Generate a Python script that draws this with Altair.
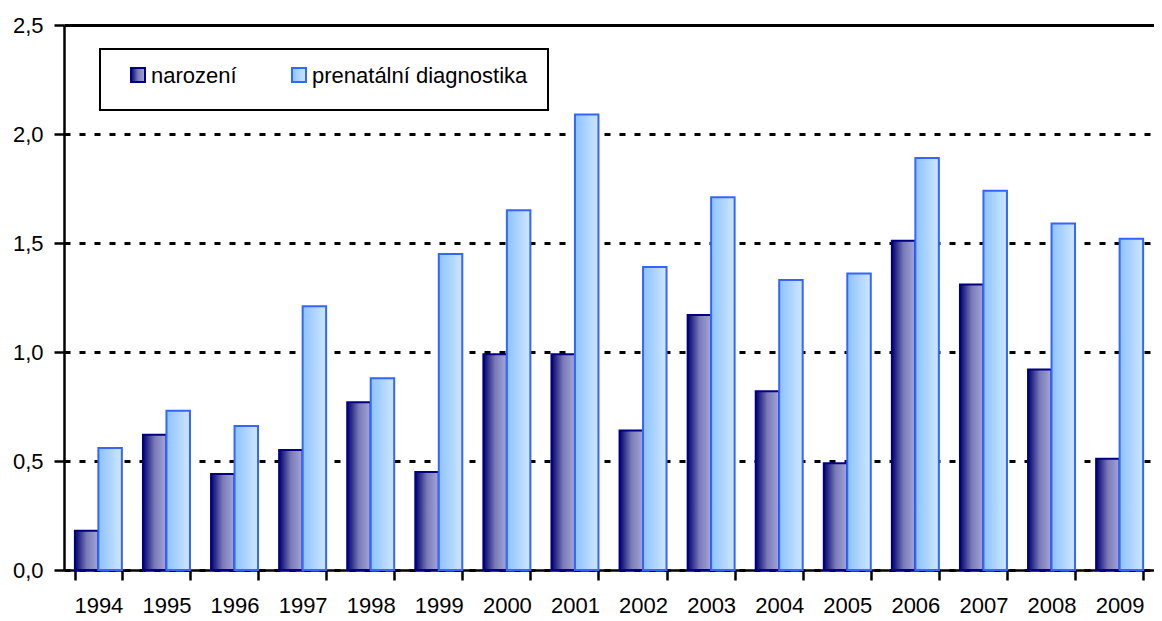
import altair as alt
import pandas as pd

years = ["1994", "1995", "1996", "1997", "1998", "1999", "2000", "2001",
         "2002", "2003", "2004", "2005", "2006", "2007", "2008", "2009"]
narozeni = [0.18, 0.62, 0.44, 0.55, 0.77, 0.45, 0.99, 0.99,
            0.64, 1.17, 0.82, 0.49, 1.51, 1.31, 0.92, 0.51]
prenatalni = [0.56, 0.73, 0.66, 1.21, 0.88, 1.45, 1.65, 2.09,
              1.39, 1.71, 1.33, 1.36, 1.89, 1.74, 1.59, 1.52]
series_names = ["narození", "prenatální diagnostika"]
y_ticks = [0.0, 0.5, 1.0, 1.5, 2.0, 2.5]

FONT = "Liberation Sans, Arial"

rows = []
for y, a, b in zip(years, narozeni, prenatalni):
    rows.append({"year": y, "series": series_names[0], "value": a})
    rows.append({"year": y, "series": series_names[1], "value": b})
df = pd.DataFrame(rows)

grad_nar = alt.LinearGradient(
    gradient="linear",
    stops=[alt.GradientStop(color="#000070", offset=0),
           alt.GradientStop(color="#7a7ab8", offset=0.5),
           alt.GradientStop(color="#a6a6d8", offset=1)],
    x1=0, x2=1, y1=0, y2=0)
grad_pre = alt.LinearGradient(
    gradient="linear",
    stops=[alt.GradientStop(color="#8cc2ff", offset=0),
           alt.GradientStop(color="#cfe7ff", offset=1)],
    x1=0, x2=1, y1=0, y2=0)

x_enc = alt.X("year:N", sort=years, title=None,
              scale=alt.Scale(paddingInner=0.31, paddingOuter=0.16),
              axis=alt.Axis(labelAngle=0, labelFont=FONT, labelFontSize=22,
                            labelColor="black", domainColor="black",
                            domainWidth=2.5, tickColor="black", tickWidth=2.5,
                            tickSize=10, tickBand="extent", labelPadding=15,
                            grid=False))
y_enc = alt.Y("value:Q", title=None,
              scale=alt.Scale(domain=[0, 2.5], nice=False),
              axis=alt.Axis(values=y_ticks, labelFont=FONT, labelFontSize=22,
                            labelColor="black",
                            labelExpr="replace(format(datum.value, '.1f'), '.', ',')",
                            domainColor="black", domainWidth=2.5,
                            tickColor="black", tickWidth=2.5, tickSize=10,
                            labelPadding=11, grid=True, gridColor="black",
                            gridWidth=3,
                            gridDash={"condition": {"test": "datum.value === 2.5", "value": []},
                                      "value": [6, 9]}))
xo_enc = alt.XOffset("series:N", scale=alt.Scale(domain=series_names))

base = alt.Chart(df)
bars_nar = base.transform_filter(alt.datum.series == series_names[0]).mark_bar(
    fill=grad_nar, stroke="#000080", strokeWidth=2
).encode(x=x_enc, y=y_enc, xOffset=xo_enc)
bars_pre = base.transform_filter(alt.datum.series == series_names[1]).mark_bar(
    fill=grad_pre, stroke="#3366ff", strokeWidth=2
).encode(x=x_enc, y=y_enc, xOffset=xo_enc)

# legend (drawn manually so the symbols keep their gradients)
leg_df = pd.DataFrame({"series": series_names})
leg = alt.Chart(leg_df)
leg_box = leg.transform_filter(alt.datum.series == series_names[0]).mark_rect(
    fill="white", stroke="black", strokeWidth=2
).encode(x=alt.value(36), x2=alt.value(484), y=alt.value(24), y2=alt.value(85))
sym_nar = leg.transform_filter(alt.datum.series == series_names[0]).mark_rect(
    fill=grad_nar, stroke="#000080", strokeWidth=2
).encode(x=alt.value(67), x2=alt.value(81), y=alt.value(43), y2=alt.value(57))
sym_pre = leg.transform_filter(alt.datum.series == series_names[1]).mark_rect(
    fill=grad_pre, stroke="#3366ff", strokeWidth=2
).encode(x=alt.value(228), x2=alt.value(242), y=alt.value(43), y2=alt.value(57))
txt_nar = leg.transform_filter(alt.datum.series == series_names[0]).mark_text(
    align="left", baseline="middle", font=FONT, fontSize=22, color="black"
).encode(x=alt.value(87), y=alt.value(51), text="series:N")
txt_pre = leg.transform_filter(alt.datum.series == series_names[1]).mark_text(
    align="left", baseline="middle", font=FONT, fontSize=22, color="black"
).encode(x=alt.value(248), y=alt.value(51), text="series:N")

chart = alt.layer(
    bars_nar, bars_pre, leg_box, sym_nar, sym_pre, txt_nar, txt_pre
).resolve_scale(x="shared").properties(
    width=1090, height=545,
    autosize=alt.AutoSizeParams(type="none"),
    padding={"left": 56, "top": 17, "right": 0, "bottom": 50},
    background="white",
).configure_view(stroke=None)

chart.save("out.html", embed_options={"renderer": "svg", "actions": False})
